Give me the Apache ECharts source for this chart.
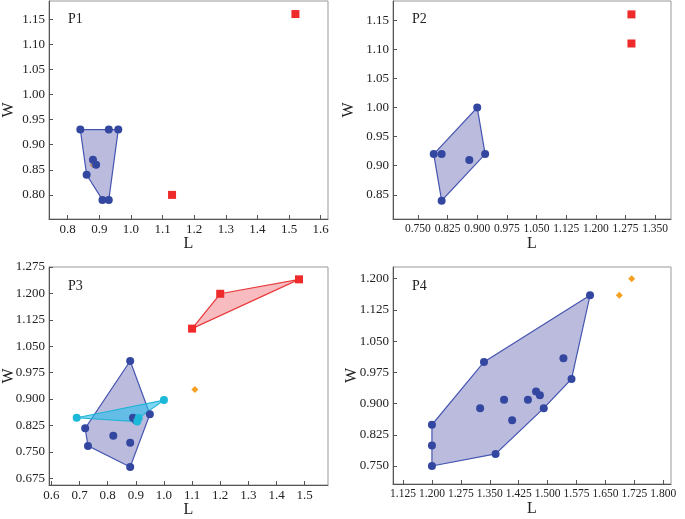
<!DOCTYPE html>
<html><head><meta charset="utf-8">
<script src="https://cdn.jsdelivr.net/npm/echarts@6/dist/echarts.min.js"></script>
<style>html,body{margin:0;padding:0;background:#fff}#c{width:685px;height:519px}</style>
</head><body><div id="c"></div>
<script>
// ---- Data ----
// P1
const p1Blue = [[0.84,0.93],[0.93,0.93],[0.96,0.93],[0.88,0.87],[0.89,0.86],[0.86,0.84],[0.91,0.79],[0.93,0.79]];
const p1BlueHull = [[0.84,0.93],[0.96,0.93],[0.93,0.79],[0.91,0.79],[0.86,0.84]];
const p1Orange = [[0.88,0.86]];
const p1Red = [[1.13,0.80],[1.52,1.16]];
// P2
const p2Blue = [[0.79,0.92],[0.81,0.92],[0.88,0.91],[0.90,1.00],[0.92,0.92],[0.81,0.84]];
const p2BlueHull = [[0.79,0.92],[0.90,1.00],[0.92,0.92],[0.81,0.84]];
const p2Red = [[1.29,1.16],[1.29,1.11]];
// P3
const p3Blue = [[0.88,1.008],[0.72,0.817],[0.73,0.767],[0.88,0.707],[0.95,0.857],[0.82,0.796],[0.88,0.776],[0.89,0.847],[0.90,0.840]];
const p3BlueHull = [[0.88,1.008],[0.95,0.857],[0.88,0.707],[0.73,0.767],[0.72,0.817]];
const p3Cyan = [[0.69,0.847],[1.00,0.897],[0.91,0.846],[0.905,0.836]];
const p3CyanHull = [[0.69,0.847],[1.00,0.897],[0.91,0.846],[0.905,0.836]];
const p3Red = [[1.10,1.100],[1.20,1.199],[1.48,1.240]];
const p3RedHull = [[1.10,1.100],[1.20,1.199],[1.48,1.240]];
const p3Orange = [[1.11,0.927]];
// P4
const p4Blue = [[1.61,1.160],[1.335,1.000],[1.20,0.849],[1.20,0.799],[1.20,0.750],[1.365,0.779],[1.49,0.889],[1.562,0.959],[1.541,1.009],[1.325,0.889],[1.387,0.909],[1.408,0.860],[1.449,0.909],[1.470,0.929],[1.480,0.920]];
const p4BlueHull = [[1.20,0.750],[1.365,0.779],[1.49,0.889],[1.562,0.959],[1.61,1.160],[1.335,1.000],[1.20,0.849]];
const p4Orange = [[1.686,1.160],[1.718,1.200]];
// Tick labels
const p1XTicks = [0.8,0.9,1.0,1.1,1.2,1.3,1.4,1.5,1.6];
const p1YTicks = [0.80,0.85,0.90,0.95,1.00,1.05,1.10,1.15];
const p2XTicks = [0.750,0.825,0.900,0.975,1.050,1.125,1.200,1.275,1.350];
const p2YTicks = [0.85,0.90,0.95,1.00,1.05,1.10,1.15];
const p3XTicks = [0.6,0.7,0.8,0.9,1.0,1.1,1.2,1.3,1.4,1.5];
const p3YTicks = [0.675,0.750,0.825,0.900,0.975,1.050,1.125,1.200,1.275];
const p4XTicks = [1.125,1.200,1.275,1.350,1.425,1.500,1.575,1.650,1.725,1.800];
const p4YTicks = [0.750,0.825,0.900,0.975,1.050,1.125,1.200];
const panelNames = ['P1','P2','P3','P4'];

// ---- Styles ----
const FONT = 'Liberation Serif';
const BLUE = '#3447a0', BLUE_FILL = 'rgba(120,120,190,0.5)', BLUE_EDGE = '#4656b0';
const RED = '#ee2a2a', RED_FILL = 'rgba(240,120,130,0.5)', RED_EDGE = '#e83a3a';
const CYAN = '#1cb8d8', CYAN_FILL = 'rgba(40,190,235,0.6)', CYAN_EDGE = '#22b4d6';
const ORANGE = '#f5a020';

const grids = [
  {left:49, top:1, width:279, height:218},
  {left:393, top:1, width:278, height:218},
  {left:49, top:267, width:279, height:218},
  {left:393, top:267, width:278, height:217}
];
const xr = [[0.741,1.623],[0.687,1.390],[0.5915,1.583],[1.099,1.820]];
const yr = [[0.752,1.186],[0.8085,1.183],[0.656,1.275],[0.7068,1.228]];
const xT = [p1XTicks,p2XTicks,p3XTicks,p4XTicks];
const yT = [p1YTicks,p2YTicks,p3YTicks,p4YTicks];
const xDec = [1,3,1,3], yDec = [2,2,3,3];
const xFont = [13,11.5,13,11.5];
const xNameGap = [17,17,17,17];
const yNameGap = [32,36,32,33];

function axisCommon(){
  return {
    type:'value', splitLine:{show:false}, nameMoveOverlap:false,
    axisLine:{show:true, lineStyle:{color:'#555', width:1}},
    nameTextStyle:{fontFamily:FONT, fontSize:16, color:'#222'}
  };
}
const xAxes = grids.map((g,i)=>Object.assign(axisCommon(),{
  gridIndex:i, min:xr[i][0], max:xr[i][1], name:'L', nameLocation:'middle', nameGap:xNameGap[i],
  axisTick:{show:true, inside:true, length:4, customValues:xT[i], lineStyle:{color:'#555'}},
  axisLabel:{customValues:xT[i], margin:4, fontFamily:FONT, fontSize:xFont[i], color:'#222',
    hideOverlap:false, showMinLabel:true, showMaxLabel:true,
    formatter:v=>Number(v).toFixed(xDec[i])}
}));
const yAxes = grids.map((g,i)=>Object.assign(axisCommon(),{
  gridIndex:i, min:yr[i][0], max:yr[i][1], name:'W', nameLocation:'middle', nameGap:yNameGap[i], nameRotate:90,
  axisTick:{show:true, inside:true, length:4, customValues:yT[i], lineStyle:{color:'#555'}},
  axisLabel:{customValues:yT[i], margin:4, fontFamily:FONT, fontSize:13, color:'#222',
    hideOverlap:false, showMinLabel:true, showMaxLabel:true,
    formatter:v=>Number(v).toFixed(yDec[i])}
}));

function poly(i, hull, fill, edge){
  return {
    type:'custom', xAxisIndex:i, yAxisIndex:i, data:hull, silent:true, z:2,
    renderItem:function(params, api){
      if(params.dataIndex!==0) return;
      const pts = hull.map(p=>api.coord(p));
      return {type:'polygon', shape:{points:pts}, style:{fill:fill, stroke:edge, lineWidth:1.2}};
    }
  };
}
function sc(i, data, color, symbol, size, z){
  return {type:'scatter', xAxisIndex:i, yAxisIndex:i, data:data, symbol:symbol, symbolSize:size,
    itemStyle:{color:color, opacity:1}, z:z||3, silent:true};
}

const series = [
  sc(0,p1Orange,ORANGE,'diamond',7,1),
  poly(0,p1BlueHull,BLUE_FILL,BLUE_EDGE),
  sc(0,p1Blue,BLUE,'circle',8,3),
  sc(0,p1Red,RED,'rect',8,3),

  poly(1,p2BlueHull,BLUE_FILL,BLUE_EDGE),
  sc(1,p2Blue,BLUE,'circle',8,3),
  sc(1,p2Red,RED,'rect',8,3),

  poly(2,p3BlueHull,BLUE_FILL,BLUE_EDGE),
  sc(2,p3Blue,BLUE,'circle',8,3),
  poly(2,p3CyanHull,CYAN_FILL,CYAN_EDGE),
  sc(2,p3Cyan,CYAN,'circle',8,4),
  poly(2,p3RedHull,RED_FILL,RED_EDGE),
  sc(2,p3Red,RED,'rect',8,3),
  sc(2,p3Orange,ORANGE,'diamond',7,3),

  poly(3,p4BlueHull,BLUE_FILL,BLUE_EDGE),
  sc(3,p4Blue,BLUE,'circle',8,3),
  sc(3,p4Orange,ORANGE,'diamond',7,3)
];

const titlePos = [[68,12],[412,12],[68,279],[412,279]];
const chart = echarts.init(document.getElementById('c'), null, {renderer:'canvas'});
chart.setOption({
  animation:false,
  backgroundColor:'#fff',
  grid: grids.map(g=>Object.assign({show:true, borderColor:'#999', borderWidth:1, backgroundColor:'transparent',
    containLabel:false, outerBoundsMode:'none'},g)),
  xAxis:xAxes, yAxis:yAxes,
  title: panelNames.map((n,i)=>({text:n, left:titlePos[i][0], top:titlePos[i][1], padding:0,
    textStyle:{fontFamily:FONT, fontSize:14, fontWeight:'normal', color:'#222'}})),
  series:series
});
</script></body></html>
